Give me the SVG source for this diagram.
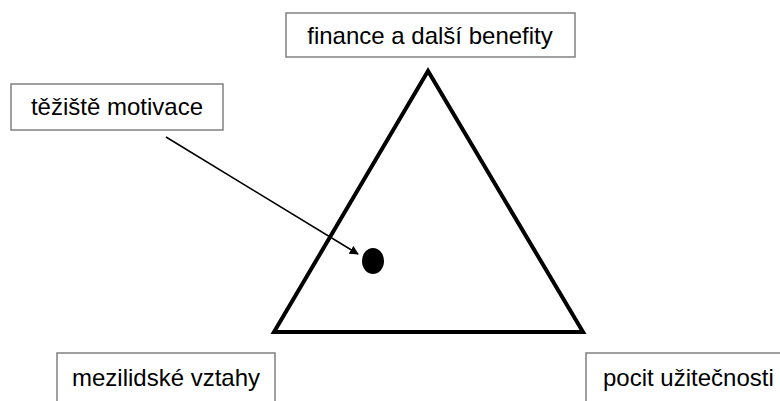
<svg xmlns="http://www.w3.org/2000/svg" width="780" height="401" viewBox="0 0 780 401">
<style>
.box{fill:#fff;stroke:#808080;stroke-width:1.5}
.lbl{font-family:"Liberation Sans",Arial,sans-serif;font-size:24px;fill:#000}
</style>
<defs>
<marker id="ah" viewBox="0 0 10 10" refX="9" refY="5" markerWidth="9" markerHeight="9" markerUnits="userSpaceOnUse" orient="auto">
<path d="M0,0 L10,5 L0,10 z" fill="#000"/>
</marker>
</defs>
<rect width="780" height="401" fill="#fff"/>
<g id="triangle">
<polygon points="428,71 274,332 583,332" fill="none" stroke="#000" stroke-width="4" stroke-linejoin="miter"/>
</g>
<g id="dot">
<ellipse cx="373" cy="261" rx="11" ry="13" fill="#000"/>
</g>
<g id="n-finance">
<rect class="box" x="286" y="13" width="289" height="44"/>
<text class="lbl" x="430" y="44" text-anchor="middle">finance a další benefity</text>
</g>
<g id="n-teziste">
<rect class="box" x="11" y="84" width="212" height="46"/>
<text class="lbl" x="117" y="115" text-anchor="middle">těžiště motivace</text>
</g>
<g id="n-mezilidske">
<rect class="box" x="57" y="353" width="218" height="60"/>
<text class="lbl" x="166" y="386" text-anchor="middle">mezilidské vztahy</text>
</g>
<g id="n-pocit">
<rect class="box" x="586" y="353" width="210" height="60"/>
<text class="lbl" x="603" y="386">pocit užitečnosti</text>
</g>
<g id="connectors">
<line x1="166" y1="137" x2="358" y2="254" stroke="#000" stroke-width="1.5" marker-end="url(#ah)"/>
</g>
</svg>
